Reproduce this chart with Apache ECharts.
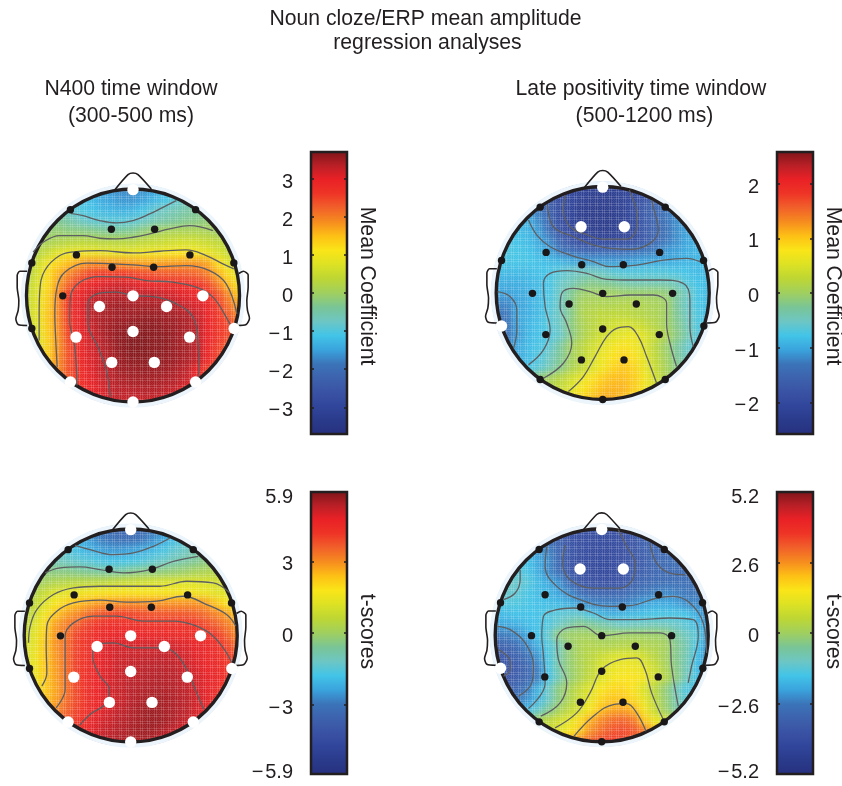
<!DOCTYPE html>
<html><head><meta charset="utf-8">
<style>html,body{margin:0;padding:0;background:#fff}
#wrap{position:relative;width:842px;height:786px;overflow:hidden;background:#fff}
#back,#front{position:absolute;left:0;top:0;width:842px;height:786px}
#back{filter:blur(3.5px)}</style>
<script src="https://cdn.jsdelivr.net/npm/echarts@6/dist/echarts.min.js"></script>
</head><body><div id="wrap"><div id="back"></div><div id="front"></div></div>
<script>
// Scalp maps: rows run from the nose (y=+1) to the back of the head (y=-1), centred in x, cell step 0.1 head radius.
const n400Coef = [
[-1.3,-1.5,-1.6,-1.7,-1.7,-1.6,-1.5,-1.3,-1.1],
[-.8,-1.0,-1.2,-1.4,-1.5,-1.6,-1.6,-1.5,-1.3,-1.1,-.9,-.7,-.5],
[-.5,-.85,-1.0,-1.1,-1.25,-1.3,-1.35,-1.3,-1.1,-.85,-.7,-.6,-.5,-.4,-.3],
[-.2,-.35,-.5,-.7,-.85,-.9,-.95,-.95,-.9,-.75,-.6,-.5,-.4,-.3,-.25,-.15,-.05],
[-.1,-.15,-.1,-.2,-.2,-.25,-.3,-.35,-.35,-.3,-.15,0,.1,.15,.15,.15,.1,-.05,-.1],
[.05,.1,.2,.3,.35,.35,.3,.3,.3,.3,.4,.45,.5,.6,.65,.6,.5,.4,.2],
[0,.2,.5,.8,.9,.95,.95,.9,.85,.85,.9,.95,1.0,1.05,1.1,1.1,1.05,.9,.7,.45,.2],
[.1,.5,1.0,1.3,1.5,1.7,1.85,1.85,1.8,1.8,1.75,1.7,1.7,1.75,1.75,1.8,1.8,1.7,1.2,.8,.4],
[.2,.6,1.2,1.6,1.95,2.2,2.5,2.6,2.6,2.6,2.55,2.45,2.4,2.3,2.3,2.25,2.2,2.0,1.6,1.2,.7],
[.3,.7,1.2,1.75,2.2,2.7,2.9,3.0,3.1,3.15,3.05,2.95,2.9,2.85,2.8,2.75,2.7,2.45,2.0,1.5,1.0],
[.4,.75,1.3,1.9,2.65,2.9,3.15,3.3,3.35,3.35,3.3,3.3,3.3,3.2,3.1,3.0,2.95,2.8,2.4,1.9,1.4],
[.4,.8,1.35,1.9,2.7,3.0,3.3,3.4,3.45,3.5,3.45,3.45,3.45,3.4,3.35,3.2,3.1,2.9,2.55,2.1,1.7],
[.4,.8,1.4,1.9,2.6,2.95,3.3,3.4,3.45,3.5,3.5,3.55,3.55,3.5,3.45,3.4,3.25,2.95,2.6,2.3,1.9],
[.3,.75,1.35,1.85,2.55,2.95,3.2,3.4,3.5,3.55,3.6,3.6,3.6,3.55,3.5,3.4,3.3,2.95,2.6,2.5,2.2],
[.2,.7,1.3,1.8,2.5,2.85,3.15,3.35,3.5,3.6,3.65,3.65,3.6,3.6,3.5,3.4,3.3,2.95,2.6,2.4,2.0],
[.6,1.3,1.8,2.4,2.85,3.1,3.3,3.45,3.6,3.65,3.65,3.6,3.6,3.5,3.45,3.3,2.9,2.5,2.2],
[.8,1.35,1.85,2.4,2.8,3.05,3.25,3.4,3.55,3.6,3.6,3.6,3.55,3.5,3.4,3.3,2.9,2.5,2.1],
[1.4,1.85,2.4,2.75,3.0,3.25,3.35,3.5,3.5,3.55,3.5,3.5,3.4,3.3,2.9,2.5,2.2],
[1.85,2.3,2.7,2.95,3.15,3.3,3.4,3.45,3.45,3.45,3.4,3.35,3.2,2.9,2.6],
[2.3,2.65,2.9,3.05,3.25,3.3,3.3,3.35,3.35,3.3,3.2,2.9,2.6],
[2.9,3.0,3.2,3.25,3.2,3.2,3.2,3.1,3.0]];
const lateCoef = [
[-1.9,-2.0,-2.1,-2.2,-2.2,-2.15,-2.05,-1.95,-1.8],
[-1.5,-1.7,-1.95,-2.05,-2.15,-2.25,-2.25,-2.25,-2.15,-2.0,-1.8,-1.5,-1.3],
[-1.2,-1.35,-1.6,-1.95,-2.1,-2.25,-2.3,-2.3,-2.25,-2.15,-1.95,-1.65,-1.5,-1.3,-1.15],
[-.9,-.95,-1.2,-1.5,-1.95,-2.1,-2.25,-2.3,-2.3,-2.3,-2.2,-2.0,-1.65,-1.5,-1.3,-1.15,-1.05],
[-.75,-.85,-.9,-1.1,-1.45,-1.8,-2.05,-2.2,-2.25,-2.3,-2.25,-2.15,-2.0,-1.65,-1.5,-1.35,-1.15,-1.05,-.95],
[-.75,-.8,-.85,-1.0,-1.2,-1.55,-1.8,-2.0,-2.05,-2.1,-2.1,-2.0,-1.95,-1.7,-1.5,-1.3,-1.15,-1.0,-.95],
[-.7,-.7,-.75,-.8,-.9,-1.05,-1.3,-1.45,-1.55,-1.6,-1.55,-1.55,-1.5,-1.45,-1.35,-1.25,-1.1,-1.05,-.95,-.9,-.85],
[-.75,-.75,-.75,-.75,-.8,-.85,-.9,-1.0,-1.05,-1.1,-1.1,-1.1,-1.1,-1.05,-1.0,-1.0,-1.0,-.95,-.9,-.9,-.85],
[-.85,-.85,-.85,-.85,-.8,-.75,-.65,-.55,-.5,-.5,-.55,-.65,-.7,-.7,-.7,-.7,-.7,-.75,-.8,-.85,-.85],
[-.95,-.95,-.95,-.9,-.85,-.75,-.55,-.45,-.3,-.2,-.25,-.3,-.4,-.45,-.45,-.45,-.45,-.5,-.7,-.8,-.85],
[-1.05,-1.05,-1.0,-.95,-.85,-.75,-.5,-.25,-.05,0,0,0,-.05,-.05,-.05,-.05,-.1,-.3,-.5,-.75,-.85],
[-1.2,-1.2,-1.05,-.95,-.85,-.7,-.5,-.2,.05,.1,.1,.1,.15,.15,.1,.05,0,-.3,-.55,-.75,-.85],
[-1.3,-1.3,-1.0,-.95,-.85,-.65,-.5,-.2,.1,.2,.25,.25,.25,.2,.15,.1,0,-.25,-.5,-.7,-.85],
[-1.3,-1.35,-1.05,-.9,-.8,-.65,-.5,-.15,.05,.2,.3,.4,.45,.4,.3,.15,0,-.2,-.45,-.7,-.85],
[-1.3,-1.3,-1.1,-.9,-.8,-.7,-.55,-.2,.05,.25,.4,.5,.6,.65,.5,.3,.1,-.15,-.4,-.65,-.8],
[-1.2,-1.0,-.85,-.75,-.6,-.3,0,.2,.4,.55,.7,.8,.7,.5,.2,-.05,-.3,-.55,-.75],
[-1.05,-1.0,-.85,-.7,-.5,-.25,0,.2,.45,.65,.8,.9,.8,.55,.25,0,-.25,-.5,-.7],
[-.95,-.8,-.65,-.45,-.2,.05,.25,.5,.7,.9,1.0,.9,.6,.3,.05,-.2,-.45],
[-.45,-.1,.05,.2,.4,.6,.8,.95,1.05,1.05,.95,.7,.4,.1,-.1],
[0,.15,.3,.5,.75,.9,1.05,1.1,1.1,.95,.7,.4,.1],
[.5,.7,.9,1.05,1.15,1.15,1.05,.85,.6]];
const n400T = [
[-2.9,-3.1,-3.3,-3.4,-3.4,-3.3,-3.0,-2.7,-2.2],
[-1.6,-2.0,-2.4,-2.8,-3.0,-3.2,-3.2,-3.0,-2.7,-2.3,-1.9,-1.5,-1.2],
[-1.2,-1.5,-1.9,-2.1,-2.3,-2.5,-2.5,-2.4,-2.2,-2.0,-1.7,-1.4,-1.2,-.9,-.7],
[-.9,-1.0,-1.2,-1.35,-1.5,-1.65,-1.8,-1.8,-1.75,-1.6,-1.4,-1.25,-1.0,-.8,-.6,-.4,-.2],
[-.4,-.35,-.4,-.4,-.5,-.6,-.7,-.8,-.75,-.5,-.4,-.35,-.3,-.2,-.1,.1,.2,.3,.4],
[-.1,.1,.3,.4,.45,.5,.5,.6,.75,.8,.9,1.0,1.1,1.1,1.2,1.2,1.15,1.0,.8],
[-.1,.3,.8,1.2,1.35,1.5,1.7,1.75,1.8,1.8,1.8,1.75,1.75,1.7,1.7,1.7,1.6,1.5,1.3,1.2,.8],
[0,.6,1.2,1.7,2.1,2.4,2.6,2.8,2.9,2.95,3.0,2.95,2.9,2.9,2.9,2.9,2.9,2.8,2.3,1.8,1.2],
[.2,.9,1.6,2.3,2.75,3.0,3.4,3.7,3.9,4.0,3.95,3.85,3.75,3.7,3.7,3.7,3.6,3.4,3.1,2.8,2.1],
[.4,1.2,2.0,2.8,3.2,3.6,4.0,4.3,4.4,4.4,4.35,4.3,4.3,4.3,4.3,4.25,4.2,3.9,3.6,3.2,2.8],
[.7,1.3,2.2,2.9,3.3,4.0,4.25,4.5,4.6,4.7,4.65,4.65,4.6,4.55,4.5,4.45,4.4,4.3,4.2,3.6,3.0],
[.9,1.4,2.3,2.9,3.4,4.0,4.3,4.6,4.95,5.0,5.0,5.0,5.0,5.05,5.0,4.9,4.75,4.6,4.4,4.0,3.4],
[.9,1.5,2.3,2.85,3.4,4.05,4.3,4.7,4.9,5.05,5.1,5.15,5.2,5.2,5.15,5.0,4.85,4.6,4.5,4.1,3.8],
[.8,1.5,2.3,2.8,3.4,4.05,4.35,4.7,4.9,5.1,5.2,5.25,5.3,5.3,5.25,5.1,4.95,4.7,4.55,4.3,4.0],
[.8,1.5,2.25,2.75,3.35,4.0,4.4,4.7,4.95,5.1,5.25,5.3,5.35,5.35,5.3,5.2,5.05,4.8,4.6,4.3,3.9],
[1.4,2.2,2.7,3.3,3.95,4.4,4.7,5.0,5.15,5.3,5.35,5.4,5.4,5.35,5.25,5.05,4.8,4.5,4.0],
[1.5,2.3,2.75,3.4,3.9,4.35,4.65,4.95,5.1,5.3,5.4,5.5,5.5,5.4,5.3,5.1,4.85,4.4,3.9],
[2.5,3.0,3.5,4.0,4.4,4.7,5.0,5.2,5.35,5.5,5.6,5.5,5.4,5.3,5.05,4.7,4.2],
[3.2,3.7,4.1,4.5,4.9,5.1,5.3,5.4,5.5,5.6,5.55,5.4,5.2,4.95,4.5],
[4.0,4.3,4.7,5.0,5.2,5.35,5.45,5.55,5.55,5.4,5.2,4.9,4.6],
[5.1,5.25,5.35,5.45,5.5,5.5,5.4,5.25,5.1]];
const lateT = [
[-3.4,-3.5,-3.7,-3.8,-3.9,-3.9,-3.7,-3.5,-3.3],
[-2.6,-2.9,-3.2,-3.6,-3.8,-3.9,-4.0,-3.9,-3.8,-3.5,-3.2,-3.0,-2.9],
[-1.9,-2.2,-2.5,-3.0,-3.5,-3.8,-4.0,-4.0,-4.0,-3.8,-3.5,-3.2,-3.0,-2.9,-2.8],
[-1.3,-1.6,-2.0,-2.35,-3.0,-3.6,-3.9,-4.0,-4.1,-4.0,-3.8,-3.5,-3.3,-3.0,-2.9,-2.8,-2.7],
[-1.1,-1.3,-1.5,-1.9,-2.4,-2.9,-3.5,-3.9,-4.0,-4.1,-4.0,-3.8,-3.4,-3.2,-3.0,-2.9,-2.9,-2.8,-2.7],
[-1.1,-1.1,-1.3,-1.7,-2.0,-2.3,-3.0,-3.5,-3.7,-3.8,-3.75,-3.6,-3.2,-3.0,-2.9,-2.85,-2.8,-2.8,-2.7],
[-1.3,-1.1,-1.2,-1.5,-1.7,-1.8,-2.1,-2.4,-2.9,-3.1,-3.1,-3.1,-3.0,-2.8,-2.6,-2.5,-2.4,-2.5,-2.6,-2.6,-2.6],
[-1.5,-1.4,-1.4,-1.5,-1.6,-1.7,-1.75,-1.9,-2.2,-2.4,-2.5,-2.5,-2.5,-2.35,-2.1,-2.0,-2.0,-2.1,-2.4,-2.4,-2.5],
[-1.8,-1.7,-1.6,-1.6,-1.6,-1.4,-1.3,-1.2,-1.2,-1.5,-1.8,-1.9,-1.8,-1.7,-1.65,-1.55,-1.5,-1.5,-1.55,-2.0,-2.4],
[-2.1,-2.0,-1.9,-1.7,-1.6,-1.4,-1.05,-.7,-.4,-.5,-.7,-.9,-1.1,-1.0,-1.0,-.9,-1.0,-1.1,-1.3,-1.7,-2.2],
[-2.6,-2.55,-2.4,-2.0,-1.6,-1.15,-.2,0,.05,.05,-.1,-.05,0,0,0,-.05,-.1,-.6,-1.0,-1.3,-2.2],
[-3.4,-3.1,-2.9,-2.4,-1.9,-1.4,-.85,-.2,.2,.3,.25,.25,.35,.35,.3,.2,.1,-.4,-.8,-1.55,-2.3],
[-3.6,-3.4,-3.1,-2.8,-2.25,-1.45,-.75,-.15,.2,.45,.7,.95,1.05,1.05,.8,.4,.05,-.4,-.85,-1.6,-2.4],
[-3.7,-3.6,-3.4,-3.0,-2.5,-1.5,-.7,-.15,.2,.5,.95,1.2,1.35,1.35,1.15,.7,.2,-.35,-.9,-1.7,-2.4],
[-3.6,-3.6,-3.3,-3.0,-2.55,-1.6,-.85,-.2,.2,.6,1.05,1.4,1.55,1.6,1.4,.85,.35,-.25,-.95,-1.6,-2.2],
[-3.3,-3.0,-2.6,-1.8,-1.1,-.25,.15,.65,1.1,1.5,1.75,1.8,1.6,.95,.4,-.2,-.9,-1.4,-1.8],
[-3.0,-2.7,-2.3,-1.8,-1.1,-.3,.2,.75,1.25,1.8,2.05,2.0,1.75,1.2,.5,-.15,-.75,-1.3,-1.7],
[-2.3,-1.7,-1.2,-.5,.05,.5,.95,1.55,2.1,2.35,2.4,2.2,1.45,.65,-.05,-.65,-1.1],
[-.7,.05,.5,.8,1.15,1.7,2.3,2.7,3.0,3.1,2.9,2.0,1.3,.9,.2],
[.4,.7,1.05,1.5,1.95,2.6,3.0,3.3,3.4,3.3,2.9,2.1,1.3],
[1.9,2.4,2.8,3.2,3.5,3.6,3.5,3.1,2.6]];

// Contour polylines, electrode sites and head outline in head units (radius 320).
const n400CoefContours = [
[[-188,247],[-150,240],[-100,225],[-50,218],[0,225],[50,245],[90,265],[130,285]],
[[-300,130],[-270,160],[-220,180],[-150,180],[-100,172],[-50,170],[0,175],[50,185],[110,200],[170,210],[240,195]],
[[-282,-135],[-282,-55],[-280,15],[-265,75],[-220,120],[-170,132],[-100,135],[0,128],[80,133],[160,137],[220,120],[270,95],[303,80]],
[[-228,-215],[-232,-135],[-235,-55],[-228,25],[-205,70],[-140,97],[-60,95],[0,92],[70,87],[160,90],[230,75],[280,35],[312,-55]],
[[-168,-270],[-175,-155],[-190,-75],[-188,-5],[-160,40],[-100,57],[-20,55],[40,45],[120,40],[190,25],[240,-5],[280,-65],[300,-105]],
[[-68,-305],[-80,-225],[-105,-155],[-135,-85],[-135,-25],[-100,7],[-50,10],[0,0],[70,-5],[130,-25],[180,-65],[195,-135],[198,-225],[190,-260]]];
const lateCoefContours = [
[[-113,294],[-118,249],[-98,199],[-58,179],[2,162],[72,162],[102,199],[102,244],[92,279],[80,309]],
[[-166,264],[-148,199],[-88,169],[-8,139],[82,131],[142,149],[167,189],[152,259],[147,279]],
[[-223,219],[-198,174],[-158,139],[-98,114],[-28,94],[22,79],[102,84],[182,99],[252,104],[292,94]],
[[-223,-216],[-178,-171],[-158,-111],[-173,-41],[-178,29],[-158,59],[-108,67],[-48,59],[12,41],[82,39],[172,39],[242,29],[262,-21],[262,-101],[272,-161]],
[[-178,-256],[-118,-211],[-93,-151],[-108,-91],[-128,-41],[-123,-1],[-88,14],[-38,4],[12,-11],[82,-6],[152,-6],[192,-31],[192,-91],[202,-151],[222,-221]],
[[-103,-296],[-58,-251],[-23,-191],[12,-131],[42,-106],[77,-101],[107,-131],[132,-191],[162,-271]],
[[-316,4],[-278,-11],[-258,-51],[-258,-111],[-268,-166]]];
const n400TContours = [
[[-167,271],[-122,258],[-52,243],[8,248],[68,268],[118,293]],
[[-257,188],[-212,203],[-152,206],[-92,198],[-22,188],[58,198],[128,223],[203,238]],
[[-307,-22],[-302,28],[-282,78],[-232,123],[-172,143],[-92,148],[8,148],[88,148],[168,163],[248,158],[298,128]],
[[-267,-152],[-252,-112],[-254,-32],[-252,28],[-222,73],[-172,98],[-92,106],[-12,100],[78,103],[158,118],[228,93],[288,63],[316,28]],
[[-224,-217],[-197,-162],[-197,-72],[-197,-2],[-172,38],[-112,58],[-42,58],[38,43],[128,43],[198,28],[248,-2],[288,-52],[308,-92]],
[[-154,-270],[-122,-237],[-72,-202],[-64,-162],[-92,-122],[-114,-62],[-107,-27],[-52,-22],[8,-37],[98,-37],[138,-57],[173,-112],[198,-172],[220,-222]]];
const lateTContours = [
[[-110,272],[-117,217],[-95,167],[-25,142],[55,142],[95,172],[100,217],[75,267],[50,317]],
[[145,277],[165,217],[205,187],[250,182]],
[[-165,267],[-170,207],[-135,147],[-65,107],[25,87],[85,89],[165,112],[215,117],[265,97],[305,37],[315,-53]],
[[-295,107],[-260,127],[-245,167],[-245,197]],
[[-220,-220],[-170,-145],[-175,-60],[-180,-3],[-175,57],[-135,77],[-85,82],[-25,67],[25,47],[105,47],[205,52],[275,47],[290,-3],[270,-93],[260,-143]],
[[-183,-243],[-125,-203],[-105,-143],[-130,-73],[-135,-13],[-105,22],[-55,27],[0,-1],[85,7],[175,7],[205,-13],[210,-93],[230,-213]],
[[-140,-278],[-75,-233],[-35,-173],[0,-103],[55,-73],[105,-68],[130,-103],[150,-173],[185,-253]],
[[-83,-303],[-25,-243],[35,-208],[75,-205],[105,-233],[133,-288]],
[[-313,27],[-275,17],[-230,-23],[-205,-93],[-210,-143],[-250,-183]],
[[-310,-43],[-275,-78],[-275,-103],[-295,-123]]];
const electrodes = [[0,318],[-188,258],[188,258],[-65,199],[65,199],[-170,122],[171,122],[-63,85],[62,85],[-304,98],[303,98],
[-211,-1],[0,-1],[210,-1],[-101,-33],[101,-33],[0,-108],[-171,-125],[170,-125],[-304,-99],[304,-99],[-64,-201],[64,-201],[-188,-260],[188,-260],[0,-320]];
const sigN400 = [0,12,13,14,15,16,17,18,20,21,22,23,24,25];
const sigLate = [0,3,4,19];
const noseLine = [[-55,317],[-15,363],[0,368],[15,363],[55,320]];
const earLeft = [[-318,73],[-340,73],[-348,60],[-348,25],[-343,-15],[-345,-45],[-352,-70],[-345,-87],[-318,-90]];
const earRight = [[318,66],[332,73],[346,62],[346,25],[342,-15],[344,-45],[350,-68],[340,-87],[312,-90]];

const ranges = [3.7, 2.58, 5.9, 5.2];
const tickLists = [[-3,-2,-1,0,1,2,3],[-2,-1,0,1,2],[-5.9,-3,0,3,5.9],[-5.2,-2.6,0,2.6,5.2]];
const barNames = ['Mean Coefficient','Mean Coefficient','t-scores','t-scores'];
const titleLines = [['Noun cloze/ERP mean amplitude',425.5,19],['regression analyses',427.5,43],
 ['N400 time window',131,89],['(300-500 ms)',131,116],['Late positivity time window',641,89],['(500-1200 ms)',644.5,116]];
const palette = ['#26307f','#2a3a8a','#30459a','#3a52a4','#3d62ad','#3b74b8','#3aa3dc','#42c4e8','#6dc6c4','#79c596','#a0cf60',
 '#bdd634','#dce224','#fae518','#fdc015','#f68c1f','#f1602a','#ee3426','#e92126','#b71f26','#7a1518'];
const fields = [n400Coef, lateCoef, n400T, lateT];
const contourSets = [n400CoefContours, lateCoefContours, n400TContours, lateTContours];
const sigSets = [sigN400, sigLate, sigN400, sigLate];

// layout
const heads = [[133,295.5],[602.7,293],[130.7,635.5],[601.7,635.3]];
const bars = [[311,152],[777,152],[311,492],[777,492]];
const PX = 106.5/320, BARW = 36, BARH = 282;
const FONT = '"Liberation Sans", Arial, sans-serif', INK = '#231f20';
const cats = Array.from({length:21},(_,i)=>((i-10)/10).toFixed(1));

// ---- blurred colour layer
const back = echarts.init(document.getElementById('back'),null,{renderer:'canvas'});
const half = 336*PX;
back.setOption({
  animation:false,
  grid: heads.map(h=>({left:h[0]-half,top:h[1]-half,width:2*half,height:2*half,outerBoundsMode:'none'})),
  xAxis: heads.map((h,i)=>({type:'category',gridIndex:i,data:cats,show:false})),
  yAxis: heads.map((h,i)=>({type:'category',gridIndex:i,data:cats,show:false})),
  visualMap: ranges.map((r,i)=>({show:false,type:'continuous',seriesIndex:i,dimension:2,min:-r,max:r,inRange:{color:palette}})),
  series: fields.map((f,i)=>{
    const data=[];
    f.forEach((row,r)=>{const off=(21-row.length)/2;row.forEach((v,c)=>data.push([c+off,20-r,v]));});
    return {type:'heatmap',xAxisIndex:i,yAxisIndex:i,data,progressive:0,silent:true};
  })
});

// ---- sharp layer
const meshCanvas = document.createElement('canvas');
meshCanvas.width = 7; meshCanvas.height = 7;
{const c = meshCanvas.getContext('2d');
 c.fillStyle='rgba(255,255,255,.09)';
 for(let x=3;x<7;x++)for(let y=3;y<7;y++)if((x+y)%2===0)c.fillRect(x,y,1,1);
 c.fillStyle='rgba(255,255,255,.17)';
 c.fillRect(0,0,7,1);c.fillRect(0,2,7,1);c.fillRect(0,0,1,7);c.fillRect(2,0,1,7);}

const front = echarts.init(document.getElementById('front'),null,{renderer:'canvas'});
const grid=[],xAxis=[],yAxis=[],series=[];
const spanH = 400*PX;
heads.forEach((h,i)=>{
  grid.push({left:h[0]-spanH,top:h[1]-spanH,width:2*spanH,height:2*spanH,outerBoundsMode:'none'});
  xAxis.push({type:'value',gridIndex:i,min:-400,max:400,show:false});
  yAxis.push({type:'value',gridIndex:i,min:-400,max:400,show:false});
});
bars.forEach((b,i)=>{
  const g=4+i, r=ranges[i];
  grid.push({left:b[0],top:b[1],width:BARW,height:BARH,outerBoundsMode:'none'});
  xAxis.push({type:'value',gridIndex:g,min:0,max:1,show:false});
  const ticks=tickLists[i];
  const fmt=v=>{const s=String(Math.abs(v));const t=(v<0?'\u2212\u200a':'')+s;
    return v===r?`{top|${t}}`:(v===-r?`{bot|${t}}`:`{mid|${t}}`);};
  const ts={fontFamily:FONT,fontSize:20,color:INK};
  yAxis.push({type:'value',gridIndex:g,position:'left',min:-r,max:r,z:6,
    axisLine:{show:false},splitLine:{show:false},
    axisTick:{show:true,inside:true,length:3,lineStyle:{color:INK,width:1.5},customValues:ticks.filter(t=>Math.abs(t)!==r)},
    axisLabel:{show:true,margin:18,customValues:ticks,formatter:fmt,color:INK,fontFamily:FONT,fontSize:20,
      rich:{mid:{...ts,padding:[7,0,0,0]},top:{...ts,padding:[10,0,0,0]},bot:{...ts,padding:[0,0,4,0]}}}});
});
bars.forEach((b,i)=>{
  const g=4+i, r=ranges[i];
  yAxis.push({type:'value',gridIndex:g,position:'right',min:-r,max:r,z:6,
    axisLine:{show:false},splitLine:{show:false},
    axisTick:{show:true,inside:true,length:3,lineStyle:{color:INK,width:1.5},customValues:tickLists[i].filter(t=>Math.abs(t)!==r)},
    axisLabel:{show:false},
    name:barNames[i],nameLocation:'middle',nameRotate:-90,nameGap:9.5,
    nameTextStyle:{fontFamily:FONT,fontSize:21.2,color:INK,padding:i<2?[0,14,0,0]:[0,3,0,0]}});
  series.push({type:'custom',xAxisIndex:g,yAxisIndex:8+i,z:3,silent:true,clip:false,data:[[0,-r,1,r]],
    encode:{x:[0,2],y:[1,3]},
    renderItem:(p,api)=>{
      const a=api.coord([api.value(0),api.value(1)]),c=api.coord([api.value(2),api.value(3)]);
      const stops=palette.map((col,k)=>({offset:k/(palette.length-1),color:col}));
      return {type:'rect',shape:{x:a[0],y:c[1],width:c[0]-a[0],height:a[1]-c[1]},
        style:{fill:new echarts.graphic.LinearGradient(0,1,0,0,stops),stroke:INK,lineWidth:2.5}};
    }});
});
heads.forEach((h,i)=>{
  series.push({type:'custom',xAxisIndex:i,yAxisIndex:i,z:2,silent:true,clip:false,data:[[0,0,320]],
    encode:{x:0,y:1},
    renderItem:(p,api)=>{
      const c=api.coord([api.value(0),api.value(1)]),rad=api.size([api.value(2),0])[0];
      const circ=(r,style)=>({type:'circle',shape:{cx:c[0],cy:c[1],r},style});
      return {type:'group',children:[
        circ(rad,{fill:{image:meshCanvas,repeat:'repeat'}}),
        circ(rad+15,{fill:'none',stroke:'#fff',lineWidth:20}),
        circ(rad+2.5,{fill:'none',stroke:'#ecf5fb',lineWidth:6}),
        circ(rad,{fill:'none',stroke:INK,lineWidth:3.4})]};
    }});
  [noseLine,earLeft,earRight].forEach(d=>series.push({type:'line',xAxisIndex:i,yAxisIndex:i,z:2.5,data:d,smooth:.25,symbol:'none',silent:true,
    lineStyle:{color:INK,width:1.6}}));
  contourSets[i].forEach(d=>series.push({type:'line',xAxisIndex:i,yAxisIndex:i,z:3,data:d,smooth:.4,symbol:'none',silent:true,
    lineStyle:{color:'#5d5f62',width:1.3}}));
  const sig=sigSets[i];
  series.push({type:'scatter',xAxisIndex:i,yAxisIndex:i,z:5,silent:true,symbolSize:7.4,itemStyle:{color:'#1a1718',opacity:1},
    data:electrodes.filter((e,k)=>!sig.includes(k))});
  series.push({type:'scatter',xAxisIndex:i,yAxisIndex:i,z:5,silent:true,symbolSize:11.4,itemStyle:{color:'#fff',opacity:1},
    data:electrodes.filter((e,k)=>sig.includes(k))});
});
front.setOption({
  animation:false,
  backgroundColor:'transparent',
  title:titleLines.map(t=>({text:t[0],left:t[1],top:t[2]-10,textAlign:'center',padding:0,
    textStyle:{fontFamily:FONT,fontSize:21.2,fontWeight:'normal',color:INK}})),
  grid,xAxis,yAxis,series
});
</script></body></html>
